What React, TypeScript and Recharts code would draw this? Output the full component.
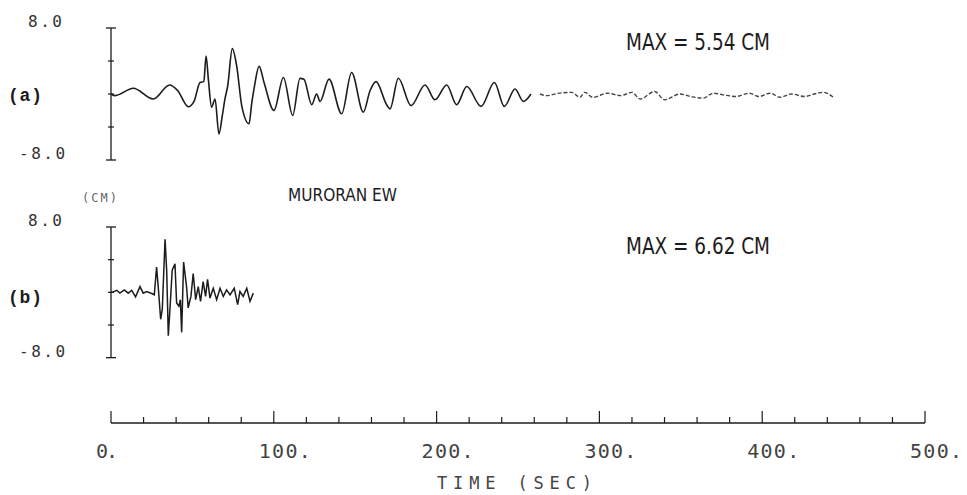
import React from "react";
import { LineChart, Line, XAxis, YAxis, ReferenceLine } from "recharts";

// trace (a): turning points, time in sec, displacement in cm
const timeA = [
  0, 2.5, 13.7, 26, 36, 41, 47.5, 51, 54.7, 57, 58.4, 59.8, 61.8, 63.9, 66.3,
  68.4, 70, 71.7, 74.5, 77.2, 80.3, 84.8, 86.4, 88, 91, 94, 100.1, 105.9, 111.6,
  116.1, 118.5, 123.3, 126.3, 128.4, 133.9, 141.7, 147.8, 155, 159.1, 162.8,
  169.3, 171.4, 176.5, 184.3, 192.9, 199, 206.2, 212.3, 218.5, 227.3, 235.5,
  241.6, 248.2, 253.3, 258,
];
const dispA = [
  0, -0.2, 0.7, -0.6, 1.1, 0.4, -1.55, -0.9, 1.4, 1.5, 4.6, 1.8, -1.6, -0.6,
  -4.85, -2.6, -0.6, 1.0, 5.5, 3.4, -1.4, -3.6, -1.2, 0.8, 3.35, 1.4, -2.0, 2.0,
  -2.6, 1.9, 1.8, -1.3, 0, -0.9, 1.8, -2.4, 2.6, -2.2, 0.4, 1.5, -1.3, -1.8, 1.9,
  -1.4, 1.1, -0.7, 1.1, -1.3, 0.9, -1.5, 1.4, -1.5, 0.6, -0.9, 0,
];

// faint tail of trace (a)
const timeATail = [
  263.5, 267.6, 275, 283, 288, 291, 296, 305, 313, 320, 325, 334, 340, 349.5,
  356, 363.8, 370, 376, 384, 392, 398, 404.8, 411, 418, 426, 432, 437.6, 443.7,
];
const dispATail = [
  0, -0.2, 0.1, 0.2, -0.4, 0.2, -0.4, 0.1, -0.2, 0.2, -0.6, 0.3, -0.7, 0, -0.3,
  -0.5, 0.1, -0.1, -0.3, 0.1, -0.3, 0.1, -0.4, 0, -0.3, 0, 0.2, -0.4,
];

// trace (b)
const timeB = [
  0, 0.8, 3.5, 5.5, 8.2, 10.6, 12.7, 15.1, 17.8, 19.8, 21.9, 25, 26.6, 28, 29,
  30.5, 31.5, 33.2, 34.2, 35.2, 36.2, 37.6, 39.3, 40.3, 41.7, 42.6, 43.4, 44.6,
  46.4, 47.4, 49.1, 50.5, 52, 53.6, 55, 56.6, 58.1, 59.3, 60.8, 62.8, 64.9, 67,
  69, 71, 73.1, 75.7, 77.8, 79.2, 81.2, 83.4, 85.4, 87.4,
];
const dispB = [
  0, 0, 0.25, -0.1, 0.3, -0.1, 0.25, -0.55, 0.7, -0.1, 0.1, -0.15, -0.3, 3.1,
  0.7, -3.3, -2.1, 6.5, 2.7, -5.3, -2.1, 2.7, 3.5, -1.3, -1.7, -0.9, -4.9, 3.7,
  0.7, -1.9, -0.5, 2.3, -0.9, 0.7, -1.1, 1.3, -0.5, 1.6, -0.7, 0.5, -0.9, 0.5,
  -0.5, 0.3, -0.3, 0.5, -1.5, 0.1, -0.5, 0.5, -1.1, -0.1,
];

const yTicks = [-8, -4, 0, 4, 8];
const xTicks = [
  0, 20, 40, 60, 80, 100, 120, 140, 160, 180, 200, 220, 240, 260, 280, 300, 320,
  340, 360, 380, 400, 420, 440, 460, 480, 500,
];

const toRows = (ts: number[], vs: number[]) => ts.map((t, i) => ({ t, v: vs[i] }));
const rowsA = toRows(timeA, dispA);
const rowsATail = toRows(timeATail, dispATail);
const rowsB = toRows(timeB, dispB);

const W = 967;
const AXIS_X = 111; // left edge of plot
const AXIS_Y_B = 238; // time axis, inside chart (b)
const INK = "#1c1c1c";
const MONO = "'DejaVu Sans Mono', monospace";

const YTick = (props: any) => {
  const { y, payload } = props;
  const v = payload.value;
  if (Math.abs(v) === 8) {
    return (
      <g>
        <line x1={AXIS_X - 5} x2={AXIS_X + 5} y1={y} y2={y} stroke={INK} strokeWidth={1.3} />
        <text x={v > 0 ? 28 : 19} y={y - 1} fontFamily={MONO} fontSize={16} fill="#333" letterSpacing={2.5}>
          {v.toFixed(1)}
        </text>
      </g>
    );
  }
  return <line x1={AXIS_X - 3} x2={AXIS_X + 3} y1={y} y2={y} stroke={INK} strokeWidth={1.2} />;
};

const XTick = (props: any) => {
  const { x, payload } = props;
  const v = payload.value;
  const major = v % 100 === 0;
  return (
    <g>
      <line x1={x} x2={x} y1={AXIS_Y_B} y2={AXIS_Y_B - (major ? 12 : 6)} stroke={INK} strokeWidth={1.2} />
      {major && (
        <text
          x={x - 15}
          y={AXIS_Y_B + 35}
          fontFamily={MONO}
          fontSize={20}
          fill="#444"
          textLength={v === 0 ? 22 : 52}
          lengthAdjust="spacing"
        >
          {`${v}.`}
        </text>
      )}
    </g>
  );
};

const textStyle = { fontFamily: "'DejaVu Sans', sans-serif", fill: INK };

export default function App() {
  return (
    <div style={{ position: "absolute", left: 0, top: 0, width: W, height: 495, background: "#fff" }}>
      <LineChart width={W} height={185} margin={{ top: 28, right: 42, bottom: 25, left: 11 }}>
        <XAxis type="number" dataKey="t" domain={[0, 500]} hide allowDataOverflow />
        <YAxis
          type="number"
          domain={[-8, 8]}
          ticks={yTicks}
          width={100}
          axisLine={false}
          tickLine={false}
          tick={<YTick />}
          interval={0}
          allowDataOverflow
        />
        <ReferenceLine segment={[{ x: 0, y: -8 }, { x: 0, y: 8 }]} stroke={INK} strokeWidth={1.3} />
        <Line data={rowsA} dataKey="v" type="monotone" stroke={INK} strokeWidth={1.6} dot={false} isAnimationActive={false} />
        <Line
          data={rowsATail}
          dataKey="v"
          type="monotone"
          stroke="#444"
          strokeWidth={1.4}
          strokeDasharray="4 2"
          dot={false}
          isAnimationActive={false}
        />
        <text x={8} y={101} fontFamily="'Liberation Mono', monospace" fontWeight="bold" fontSize={18} fill={INK} textLength={34}>
          (a)
        </text>
        <text x={626} y={50} {...textStyle} fontSize={23} textLength={144} lengthAdjust="spacingAndGlyphs">
          MAX = 5.54 CM
        </text>
      </LineChart>

      <div style={{ position: "absolute", left: 0, top: 185 }}>
        <LineChart width={W} height={310} margin={{ top: 42, right: 42, bottom: 12, left: 11 }}>
          <XAxis
            type="number"
            dataKey="t"
            domain={[0, 500]}
            ticks={xTicks}
            interval={0}
            height={60}
            tickLine={false}
            axisLine={{ stroke: INK, strokeWidth: 1.3 }}
            tick={<XTick />}
            allowDataOverflow
          />
          <YAxis
            type="number"
            domain={[-16, 8]}
            ticks={yTicks}
            width={100}
            axisLine={false}
            tickLine={false}
            tick={<YTick />}
            interval={0}
            allowDataOverflow
          />
          <ReferenceLine segment={[{ x: 0, y: -8 }, { x: 0, y: 8 }]} stroke={INK} strokeWidth={1.3} />
          <Line data={rowsB} dataKey="v" type="linear" stroke={INK} strokeWidth={1.5} dot={false} isAnimationActive={false} />
          <text x={8} y={118} fontFamily="'Liberation Mono', monospace" fontWeight="bold" fontSize={18} fill={INK} textLength={34}>
            (b)
          </text>
          <text x={82} y={17} fontFamily={MONO} fontSize={12} fill="#666" letterSpacing={2}>
            (CM)
          </text>
          <text x={288} y={16} {...textStyle} fontSize={17} textLength={109} lengthAdjust="spacingAndGlyphs">
            MURORAN EW
          </text>
          <text x={626} y={69} {...textStyle} fontSize={23} textLength={144} lengthAdjust="spacingAndGlyphs">
            MAX = 6.62 CM
          </text>
          <text x={437} y={304} fontFamily={MONO} fontSize={17} fill="#444" textLength={155} lengthAdjust="spacing">
            TIME (SEC)
          </text>
        </LineChart>
      </div>
    </div>
  );
}
